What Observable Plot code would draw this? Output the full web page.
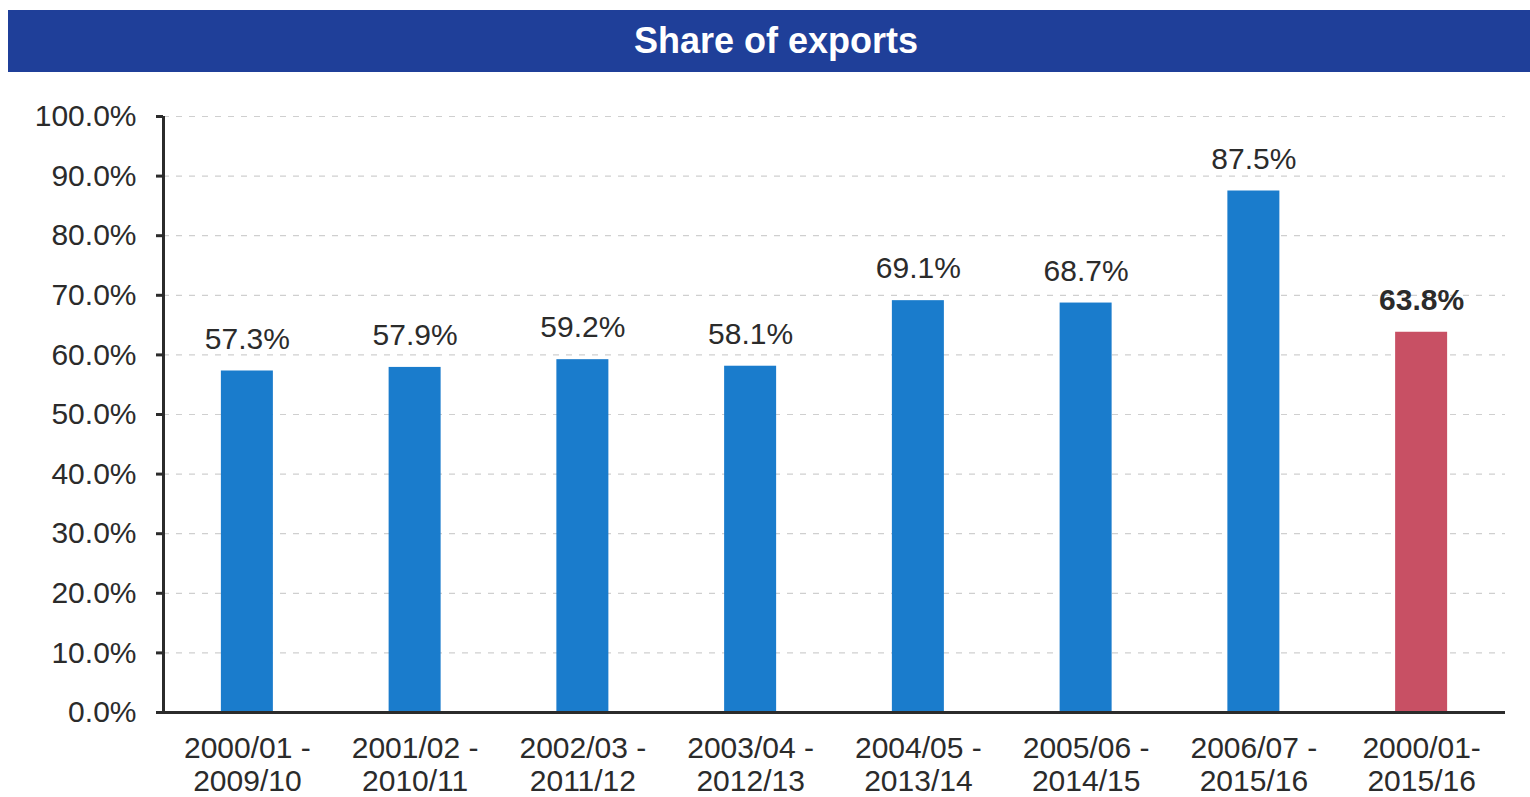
<!DOCTYPE html>
<html>
<head>
<meta charset="utf-8">
<script src="https://cdn.jsdelivr.net/npm/d3@7"></script>
<script src="https://cdn.jsdelivr.net/npm/@observablehq/plot@0.6"></script>
<style>
  html, body { margin: 0; padding: 0; background: #fff; }
  #title {
    position: relative; margin: 10px 0 0 8px; width: 1522px; height: 62px;
    background: #1f3f99; color: #fff; font: bold 36px "Liberation Sans", Arial, sans-serif;
    display: flex; align-items: center; justify-content: center; box-sizing: border-box;
  }
  #title span { position: relative; left: 7px; top: 0px; }
  #chart svg { display: block; }
</style>
</head>
<body>
<div id="title"><span>Share of exports</span></div>
<div id="chart"></div>
<script>
const categories = [
  "2000/01 -\n2009/10",
  "2001/02 -\n2010/11",
  "2002/03 -\n2011/12",
  "2003/04 -\n2012/13",
  "2004/05 -\n2013/14",
  "2005/06 -\n2014/15",
  "2006/07 -\n2015/16",
  "2000/01-\n2015/16"
];
const values = [0.573, 0.579, 0.592, 0.581, 0.691, 0.687, 0.875, 0.638];
const isTotal = [false, false, false, false, false, false, false, true];
const yTicks = [0, 0.1, 0.2, 0.3, 0.4, 0.5, 0.6, 0.7, 0.8, 0.9, 1.0];

const data = categories.map((c, i) => ({i, label: c, value: values[i], total: isTotal[i]}));
const fmt = d3.format(".1%");
const font = '"Liberation Sans", Arial, sans-serif';
const half = 0.155;

const plot = Plot.plot({
  width: 1530,
  height: 725,
  marginTop: 44,
  marginBottom: 85,
  marginLeft: 163,
  marginRight: 25,
  style: {fontFamily: font, color: "#2b2b2b", background: "#fff"},
  x: {type: "linear", domain: [0, categories.length], axis: null},
  y: {type: "linear", domain: [0, 1], axis: null},
  marks: [
    Plot.gridY(yTicks.slice(1), {stroke: "#cfcfcf", strokeOpacity: 1, strokeDasharray: "6,7", strokeWidth: 1.2}),
    Plot.rectY(data, {
      x1: d => d.i + 0.5 - half,
      x2: d => d.i + 0.5 + half,
      y: "value",
      fill: d => d.total ? "#c85064" : "#1a7ccc"
    }),
    Plot.ruleY([0], {stroke: "#2b2b2b", strokeWidth: 3}),
    Plot.ruleX([0], {stroke: "#2b2b2b", strokeWidth: 3}),
    Plot.axisY({ticks: yTicks, tickFormat: fmt, tickSize: 7, tickPadding: 20, fontSize: 30, stroke: "#2b2b2b", strokeWidth: 3, fill: "#2b2b2b", label: null}),
    Plot.ruleX(d3.range(categories.length + 1), {x: d => d, y1: 0, y2: 0, stroke: "#2b2b2b", strokeWidth: 3, ariaLabel: "xticks"}),
    Plot.text(data.filter(d => !d.total), {
      x: d => d.i + 0.5, y: "value", text: d => fmt(d.value),
      dy: -32, fontSize: 30, fill: "#2b2b2b"
    }),
    Plot.text(data.filter(d => d.total), {
      x: d => d.i + 0.5, y: "value", text: d => fmt(d.value),
      dy: -32, fontSize: 30, fill: "#2b2b2b", fontWeight: "bold"
    }),
    Plot.text(data, {
      x: d => d.i + 0.5, y: 0, text: "label",
      lineAnchor: "top", dy: 21, lineHeight: 1.13, fontSize: 30, fill: "#2b2b2b"
    })
  ]
});
document.getElementById("chart").appendChild(plot);

// x-axis tick marks at band boundaries extend downward
d3.select(plot).selectAll("g[aria-label='xticks'] line").each(function() {
  const y = Math.max(+this.getAttribute("y1"), +this.getAttribute("y2"));
  this.setAttribute("y1", y);
  this.setAttribute("y2", y + 9);
});
</script>
</body>
</html>
